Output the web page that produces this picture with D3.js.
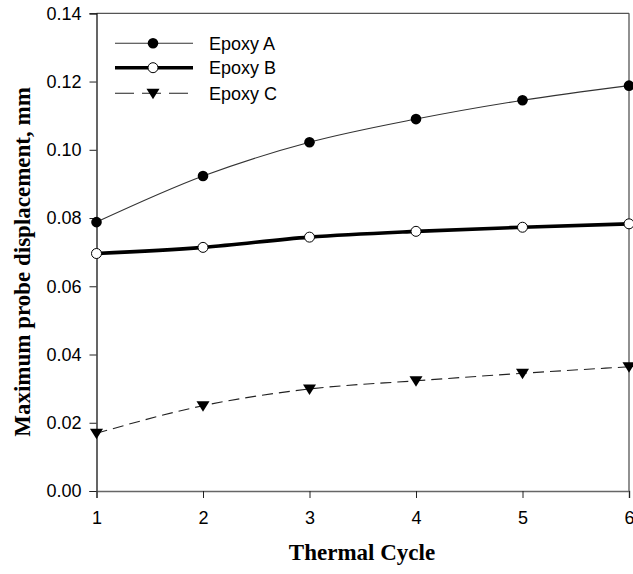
<!DOCTYPE html>
<html><head><meta charset="utf-8">
<script src="https://cdn.jsdelivr.net/npm/d3@7"></script>
<style>body{margin:0;background:#fff}svg{display:block}</style>
</head><body>
<svg id="c" width="633" height="574"></svg>
<script>
const cycles = [1, 2, 3, 4, 5, 6];
const epoxyA = [0.0788, 0.0923, 0.1022, 0.1090, 0.1145, 0.1188];
const epoxyB = [0.0696, 0.0714, 0.0744, 0.0761, 0.0773, 0.0783];
const epoxyC = [0.0169, 0.0250, 0.0299, 0.0323, 0.0345, 0.0364];
const seriesNames = ["Epoxy A", "Epoxy B", "Epoxy C"];
const yTicks = [0, 0.02, 0.04, 0.06, 0.08, 0.10, 0.12, 0.14];
const xTicks = [1, 2, 3, 4, 5, 6];

const svg = d3.select("#c");
const L = 96.5, R = 629, T = 13.3, B = 491;
const x = d3.scaleLinear().domain([1, 6]).range([L, R]);
const y = d3.scaleLinear().domain([0, 0.14]).range([B, T]);

// frame
svg.append("line").attr("x1", L).attr("x2", R).attr("y1", T).attr("y2", T).attr("stroke", "#555").attr("stroke-width", 1.3);
svg.append("line").attr("x1", R).attr("x2", R).attr("y1", T).attr("y2", B).attr("stroke", "#555").attr("stroke-width", 1.3);

const yAxis = svg.append("g").attr("transform", `translate(${L},0)`)
  .call(d3.axisLeft(y).tickValues(yTicks).tickFormat(d3.format(".2f")).tickSize(7).tickPadding(8));
const xAxis = svg.append("g").attr("transform", `translate(0,${B})`)
  .call(d3.axisBottom(x).tickValues(xTicks).tickFormat(d3.format("d")).tickSize(7).tickPadding(13));
[yAxis, xAxis].forEach(g => {
  g.selectAll("text").attr("font-family", "Liberation Sans, Arial, sans-serif").attr("font-size", 18).attr("fill", "#000");
  g.selectAll("line").attr("stroke", "#222");
});
yAxis.select(".domain").attr("stroke", "#000").attr("stroke-width", 1.2);
xAxis.select(".domain").attr("stroke", "#666").attr("stroke-width", 1.5);

const line = d3.line().x((d, i) => x(cycles[i])).y(d => y(d)).curve(d3.curveMonotoneX);

const styles = [
  {data: epoxyA, w: 1.1, stroke: "#333", dash: null},
  {data: epoxyB, w: 3.6, stroke: "#000", dash: null},
  {data: epoxyC, w: 1.1, stroke: "#222", dash: "11,6"}
];
styles.forEach(s => {
  svg.append("path").attr("d", line(s.data)).attr("fill", "none")
    .attr("stroke", s.stroke).attr("stroke-width", s.w).attr("stroke-dasharray", s.dash);
});

function marker(g, k, cx, cy) {
  if (k === 0) g.append("circle").attr("cx", cx).attr("cy", cy).attr("r", 5.3).attr("fill", "#000");
  else if (k === 1) g.append("circle").attr("cx", cx).attr("cy", cy).attr("r", 5).attr("fill", "#fff").attr("stroke", "#000").attr("stroke-width", 1);
  else g.append("path").attr("transform", `translate(${cx},${cy})`)
    .attr("d", "M-6.5,-4.5L6.5,-4.5L0,6Z").attr("fill", "#000");
}
const mg = svg.append("g");
styles.forEach((s, k) => s.data.forEach((v, i) => marker(mg, k, x(cycles[i]), y(v))));

// legend
const legY = [43.3, 67.7, 93.3];
seriesNames.forEach((n, k) => {
  const s = styles[k];
  svg.append("line").attr("x1", 115).attr("x2", 193).attr("y1", legY[k]).attr("y2", legY[k])
    .attr("stroke", s.stroke).attr("stroke-width", s.w).attr("stroke-dasharray", k === 2 ? "19,8" : null);
  marker(svg, k, 153, legY[k]);
  svg.append("text").attr("x", 209).attr("y", legY[k] + 6.5).text(n)
    .attr("font-family", "Liberation Sans, Arial, sans-serif").attr("font-size", 18);
});

// axis titles
svg.append("text").attr("x", 362).attr("y", 560).attr("text-anchor", "middle")
  .attr("font-family", "Liberation Serif, Times New Roman, serif").attr("font-weight", "bold").attr("font-size", 23)
  .text("Thermal Cycle");
svg.append("text").attr("transform", "translate(30,262) rotate(-90)").attr("text-anchor", "middle")
  .attr("font-family", "Liberation Serif, Times New Roman, serif").attr("font-weight", "bold").attr("font-size", 23)
  .text("Maximum probe displacement, mm");
</script>
</body></html>
